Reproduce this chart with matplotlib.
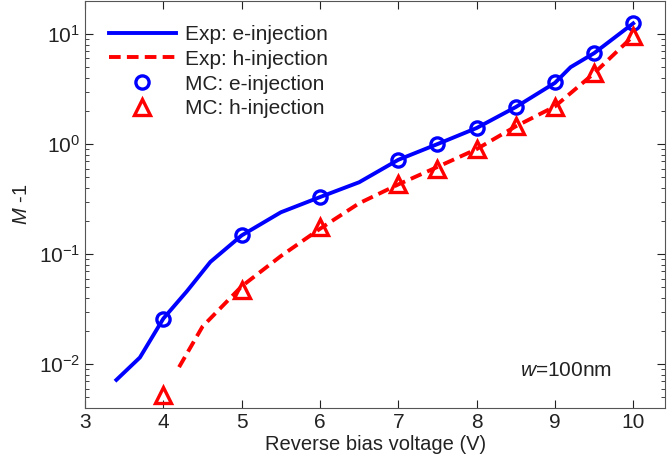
import numpy as np
import matplotlib
matplotlib.use("Agg")
import matplotlib.pyplot as plt
from matplotlib.ticker import LogLocator, NullFormatter

plt.rcParams['font.family'] = ['Liberation Sans', 'DejaVu Sans']
plt.rcParams['mathtext.fontset'] = 'custom'
plt.rcParams['mathtext.rm'] = 'Liberation Sans'
plt.rcParams['mathtext.it'] = 'Liberation Sans:italic'

# experimental curves
exp_e_v = [3.4, 3.7, 4.0, 4.3, 4.6, 5.0, 5.5, 6.0, 6.5, 7.0, 7.5, 8.0, 8.5, 9.0, 9.2, 9.5, 10.0]
exp_e_m = [0.0072, 0.0115, 0.026, 0.046, 0.085, 0.148, 0.24, 0.33, 0.45, 0.72, 1.0, 1.4, 2.17, 3.6, 5.0, 6.7, 12.5]
exp_h_v = [4.2, 4.5, 5.0, 5.5, 6.0, 6.5, 7.0, 7.5, 8.0, 8.5, 9.0, 9.5, 10.0]
exp_h_m = [0.0094, 0.022, 0.051, 0.096, 0.17, 0.29, 0.43, 0.62, 0.9, 1.45, 2.2, 4.4, 9.6]

# Monte Carlo points
mc_e_v = [4, 5, 6, 7, 7.5, 8, 8.5, 9, 9.5, 10]
mc_e_m = [0.026, 0.148, 0.33, 0.72, 1.0, 1.4, 2.17, 3.66, 6.7, 12.6]
mc_h_v = [4, 5, 6, 7, 7.5, 8, 8.5, 9, 9.5, 10]
mc_h_m = [0.0052, 0.047, 0.176, 0.43, 0.6, 0.9, 1.45, 2.17, 4.4, 9.6]

fig = plt.figure(figsize=(6.7, 4.7), dpi=100)
ax = fig.add_axes([0.127, 0.132, 0.866, 0.866])

ax.plot(exp_e_v, exp_e_m, '-', color='#0000ff', lw=2.8, label='Exp: e-injection')
ax.plot(exp_h_v, exp_h_m, '--', color='#ff0000', lw=2.8, dashes=(3, 1.6), label='Exp: h-injection')
ax.plot(mc_e_v, mc_e_m, 'o', color='#0000ff', mfc='none', ms=9.5, mew=2.4, label='MC: e-injection')
ax.plot(mc_h_v, mc_h_m, '^', color='#ff0000', mfc='none', ms=11, mew=2.4, label='MC: h-injection')

ax.set_yscale('log')
ax.set_xlim(3, 10.41)
ax.set_ylim(0.004, 20)
ax.set_xticks([3, 4, 5, 6, 7, 8, 9, 10])
ax.yaxis.set_minor_locator(LogLocator(base=10, subs=np.arange(2, 10)))
ax.yaxis.set_minor_formatter(NullFormatter())
ax.tick_params(which='both', direction='in', top=True, right=True, labelsize=15, colors='#222222')
ax.tick_params(which='major', length=6)
ax.tick_params(which='minor', length=3)
for s in ax.spines.values():
    s.set_color('#555555')

ax.set_xlabel('Reverse bias voltage (V)', fontsize=14.5, labelpad=2, color='#222222')
ax.set_ylabel(r'$\mathit{M}$ -1', fontsize=14.5, labelpad=6, color='#222222')

ax.text(8.56, 0.0088, r'$\mathit{w}$=100nm', fontsize=15, va='center', color='#222222')

leg = ax.legend(loc='upper left', frameon=False, fontsize=15, handlelength=3.2,
                labelspacing=0.28, borderaxespad=0.75, handletextpad=0.45)
for t in leg.get_texts():
    t.set_color('#222222')

fig.savefig('out.png', dpi=100)
